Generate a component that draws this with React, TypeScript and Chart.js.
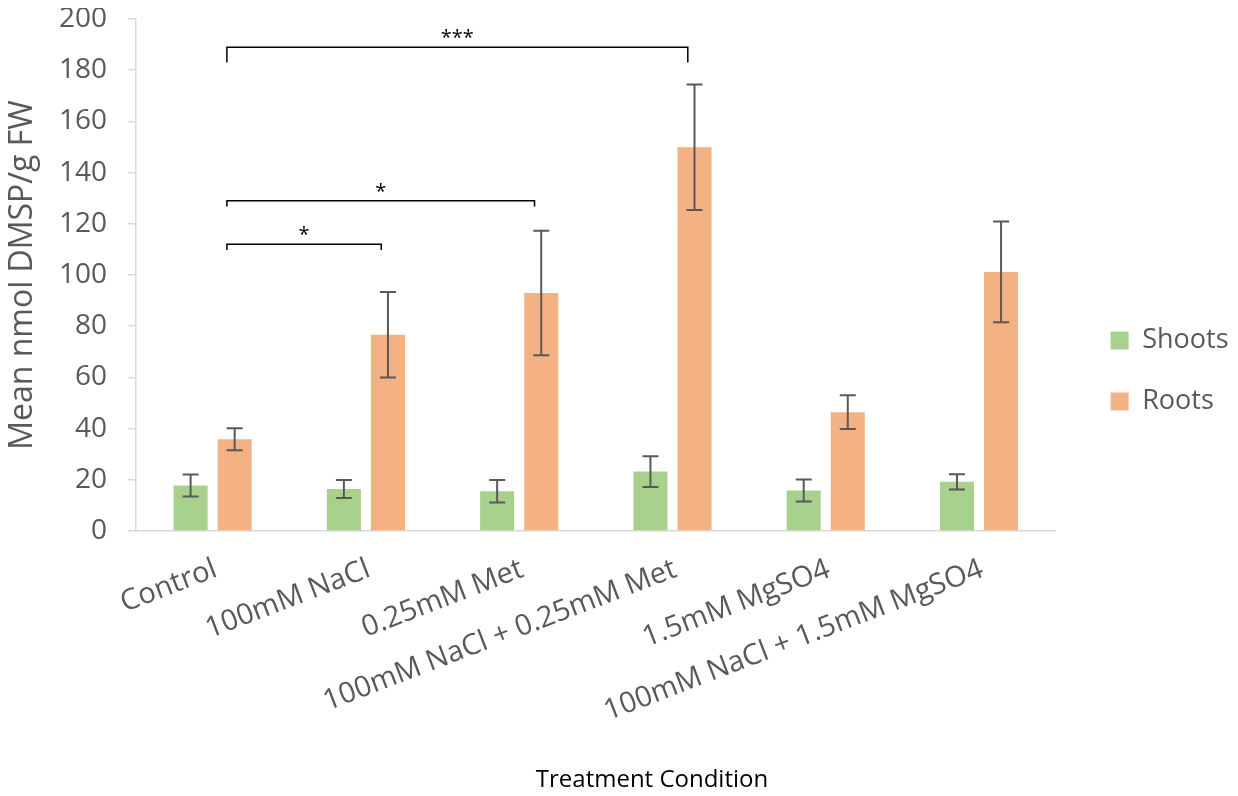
import React, { useEffect, useRef } from 'react';
import { Chart, registerables } from 'chart.js';

Chart.register(...registerables);

const categories = [
  'Control',
  '100mM NaCl',
  '0.25mM Met',
  '100mM NaCl + 0.25mM Met',
  '1.5mM MgSO4',
  '100mM NaCl + 1.5mM MgSO4',
];
const shoots = [17.8, 16.4, 15.5, 23.2, 15.8, 19.2];
const shootsErr = [4.3, 3.5, 4.4, 6.0, 4.3, 3.0];
const roots = [35.8, 76.7, 93.0, 149.9, 46.4, 101.2];
const rootsErr = [4.3, 16.7, 24.3, 24.5, 6.6, 19.7];

const yMin = 0;
const yMax = 200;
const yStep = 20;

// significance brackets: from category, to category, level (data units), drop (data units), label
const bracketFrom = [0, 0, 0];
const bracketTo = [1, 2, 3];
const bracketLevel = [112, 129, 189];
const bracketDrop = [2.2, 2.2, 6];
const bracketLabel = ['*', '*', '***'];

const xTitle = 'Treatment Condition';
const yTitle = 'Mean nmol DMSP/g FW';

const GREEN = '#A9D18E';
const ORANGE = '#F4B183';
const GREY = '#595959';
const AXIS = '#D9D9D9';

const errorBarPlugin = {
  id: 'errorBars',
  afterDatasetsDraw(chart: any) {
    const ctx = chart.ctx;
    const y = chart.scales.y;
    ctx.save();
    ctx.strokeStyle = GREY;
    ctx.lineWidth = 2;
    chart.data.datasets.forEach((ds: any, di: number) => {
      const meta = chart.getDatasetMeta(di);
      meta.data.forEach((bar: any, i: number) => {
        const v = ds.data[i];
        const e = ds.errors[i];
        const top = y.getPixelForValue(v + e);
        const bot = y.getPixelForValue(v - e);
        const x = bar.x;
        const cap = 8;
        ctx.beginPath();
        ctx.moveTo(x, top);
        ctx.lineTo(x, bot);
        ctx.moveTo(x - cap, top);
        ctx.lineTo(x + cap, top);
        ctx.moveTo(x - cap, bot);
        ctx.lineTo(x + cap, bot);
        ctx.stroke();
      });
    });
    ctx.restore();
  },
};

const bracketPlugin = {
  id: 'brackets',
  afterDatasetsDraw(chart: any) {
    const ctx = chart.ctx;
    const xs = chart.scales.x;
    const ys = chart.scales.y;
    const catW = xs.width / categories.length;
    ctx.save();
    ctx.strokeStyle = '#000';
    ctx.lineWidth = 1.5;
    ctx.fillStyle = '#000';
    ctx.font = '20px "Open Sans"';
    ctx.textAlign = 'center';
    ctx.textBaseline = 'alphabetic';
    bracketFrom.forEach((f, k) => {
      const x1 = xs.getPixelForValue(f) + catW * 0.093;
      const x2 = xs.getPixelForValue(bracketTo[k]) + catW * 0.1;
      const yl = ys.getPixelForValue(bracketLevel[k]);
      const yd = ys.getPixelForValue(bracketLevel[k] - bracketDrop[k]);
      ctx.beginPath();
      ctx.moveTo(x1, yd);
      ctx.lineTo(x1, yl);
      ctx.lineTo(x2, yl);
      ctx.lineTo(x2, yd);
      ctx.stroke();
      ctx.fillText(bracketLabel[k], (x1 + x2) / 2, yl - 3);
    });
    ctx.restore();
  },
};

const xTitlePlugin = {
  id: 'xTitle',
  afterDraw(chart: any) {
    const ctx = chart.ctx;
    ctx.save();
    ctx.font = '24px "Open Sans"';
    ctx.fillStyle = '#000';
    ctx.textAlign = 'center';
    ctx.textBaseline = 'middle';
    ctx.fillText(xTitle, chart.width * 0.527, chart.height - 16);
    ctx.restore();
  },
};

export default function App() {
  const ref = useRef<HTMLCanvasElement | null>(null);

  useEffect(() => {
    if (!ref.current) return;
    Chart.defaults.font.family = '"Open Sans", sans-serif';
    const chart = new Chart(ref.current, {
      type: 'bar',
      data: {
        labels: categories,
        datasets: [
          {
            label: 'Shoots',
            data: shoots,
            errors: shootsErr,
            backgroundColor: GREEN,
            categoryPercentage: 0.575,
            barPercentage: 0.773,
            yAxisID: 'y',
          } as any,
          {
            label: 'Roots',
            data: roots,
            errors: rootsErr,
            backgroundColor: ORANGE,
            categoryPercentage: 0.575,
            barPercentage: 0.773,
            yAxisID: 'y',
          } as any,
        ],
      },
      options: {
        animation: false,
        responsive: true,
        maintainAspectRatio: false,
        layout: { padding: { top: 0, right: -8.5, bottom: 62, left: 0 } },
        plugins: {
          tooltip: { enabled: false },
          legend: {
            position: 'right',
            labels: {
              boxWidth: 18,
              boxHeight: 18,
              padding: 34,
              color: GREY,
              font: { size: 27 },
            },
          },
        },
        scales: {
          x: {
            grid: { display: false },
            border: { display: true, color: AXIS, width: 1.5 },
            ticks: {
              color: GREY,
              font: { size: 29 },
              minRotation: 21,
              maxRotation: 21,
              autoSkip: false,
              padding: 13,
              labelOffset: 3,
            },
            afterFit(s: any) {
              s.height = 203;
              s.paddingLeft = 0;
              s.paddingRight = 0;
              s.paddingTop = 0;
              s.paddingBottom = 0;
            },
          },
          y: {
            min: yMin,
            max: yMax,
            grid: { display: true, drawOnChartArea: false, drawTicks: true, tickLength: 8, color: AXIS, lineWidth: 1.5 },
            border: { display: true, color: AXIS, width: 1.5 },
            ticks: { stepSize: yStep, color: GREY, font: { size: 28 }, padding: 21 },
            title: {
              display: true,
              text: yTitle,
              color: GREY,
              font: { size: 32, lineHeight: 0.9 },
              padding: 0,
            },
            afterFit(s: any) {
              s.width = 128;
              s.paddingTop = 11;
              s.paddingBottom = 0;
            },
          },
          yR: {
            type: 'linear',
            position: 'right',
            display: true,
            grid: { display: false },
            border: { display: false },
            ticks: { display: false },
            afterFit(s: any) {
              s.width = 21;
              s.paddingTop = 0;
              s.paddingBottom = 0;
            },
          },
        },
      } as any,
      plugins: [errorBarPlugin, bracketPlugin, xTitlePlugin],
    });
    return () => chart.destroy();
  }, []);

  return (
    <div style={{ position: 'relative', width: '1222px', height: '788px', marginBottom: '-8px' }}>
      <canvas ref={ref} />
    </div>
  );
}
